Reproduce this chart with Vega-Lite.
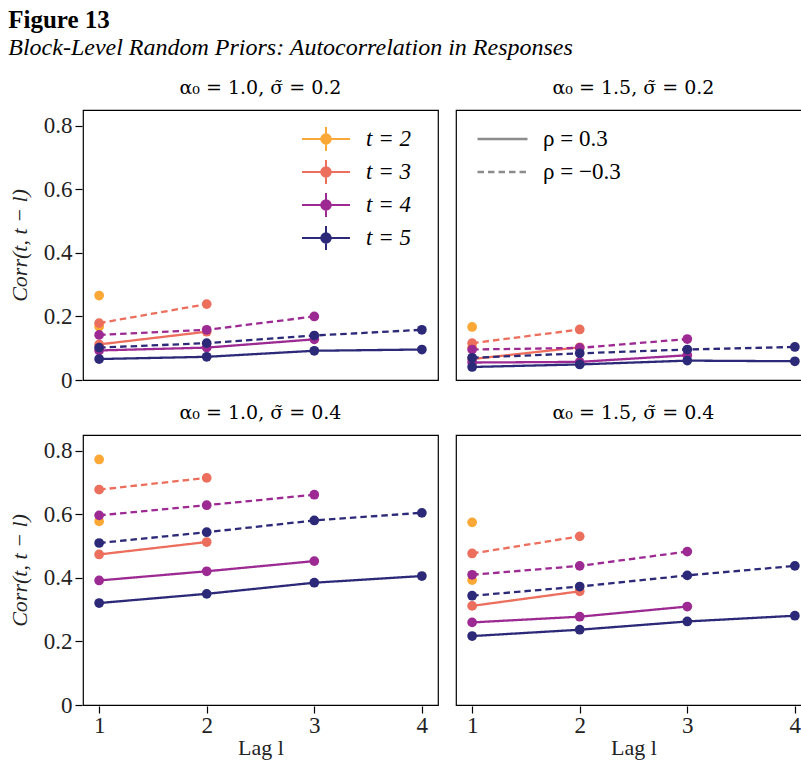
{
  "$schema": "https://vega.github.io/schema/vega-lite/v6.json",
  "padding": {"left": 8, "top": 8, "right": 0, "bottom": 4},
  "background": "white",
  "title": {
    "text": "Figure 13",
    "subtitle": "Block-Level Random Priors: Autocorrelation in Responses",
    "anchor": "start",
    "font": "Liberation Serif",
    "fontSize": 25,
    "fontWeight": "bold",
    "color": "black",
    "subtitleFont": "Liberation Serif",
    "subtitleFontSize": 24,
    "subtitleFontStyle": "italic",
    "subtitleColor": "black",
    "subtitlePadding": 3,
    "offset": 18
  },
  "data": {
    "values": [
      {"p": "α₀ = 1.0, σ̃ = 0.2", "t": "t = 2", "r": "ρ = 0.3", "l": 1, "c": 0.168},
      {"p": "α₀ = 1.0, σ̃ = 0.2", "t": "t = 2", "r": "ρ = −0.3", "l": 1, "c": 0.266},
      {"p": "α₀ = 1.0, σ̃ = 0.2", "t": "t = 3", "r": "ρ = 0.3", "l": 1, "c": 0.112},
      {"p": "α₀ = 1.0, σ̃ = 0.2", "t": "t = 3", "r": "ρ = 0.3", "l": 2, "c": 0.152},
      {"p": "α₀ = 1.0, σ̃ = 0.2", "t": "t = 3", "r": "ρ = −0.3", "l": 1, "c": 0.179},
      {"p": "α₀ = 1.0, σ̃ = 0.2", "t": "t = 3", "r": "ρ = −0.3", "l": 2, "c": 0.239},
      {"p": "α₀ = 1.0, σ̃ = 0.2", "t": "t = 4", "r": "ρ = 0.3", "l": 1, "c": 0.093},
      {"p": "α₀ = 1.0, σ̃ = 0.2", "t": "t = 4", "r": "ρ = 0.3", "l": 2, "c": 0.102},
      {"p": "α₀ = 1.0, σ̃ = 0.2", "t": "t = 4", "r": "ρ = 0.3", "l": 3, "c": 0.128},
      {"p": "α₀ = 1.0, σ̃ = 0.2", "t": "t = 4", "r": "ρ = −0.3", "l": 1, "c": 0.142},
      {"p": "α₀ = 1.0, σ̃ = 0.2", "t": "t = 4", "r": "ρ = −0.3", "l": 2, "c": 0.158},
      {"p": "α₀ = 1.0, σ̃ = 0.2", "t": "t = 4", "r": "ρ = −0.3", "l": 3, "c": 0.200},
      {"p": "α₀ = 1.0, σ̃ = 0.2", "t": "t = 5", "r": "ρ = 0.3", "l": 1, "c": 0.066},
      {"p": "α₀ = 1.0, σ̃ = 0.2", "t": "t = 5", "r": "ρ = 0.3", "l": 2, "c": 0.073},
      {"p": "α₀ = 1.0, σ̃ = 0.2", "t": "t = 5", "r": "ρ = 0.3", "l": 3, "c": 0.092},
      {"p": "α₀ = 1.0, σ̃ = 0.2", "t": "t = 5", "r": "ρ = 0.3", "l": 4, "c": 0.096},
      {"p": "α₀ = 1.0, σ̃ = 0.2", "t": "t = 5", "r": "ρ = −0.3", "l": 1, "c": 0.102},
      {"p": "α₀ = 1.0, σ̃ = 0.2", "t": "t = 5", "r": "ρ = −0.3", "l": 2, "c": 0.116},
      {"p": "α₀ = 1.0, σ̃ = 0.2", "t": "t = 5", "r": "ρ = −0.3", "l": 3, "c": 0.140},
      {"p": "α₀ = 1.0, σ̃ = 0.2", "t": "t = 5", "r": "ρ = −0.3", "l": 4, "c": 0.158},

      {"p": "α₀ = 1.5, σ̃ = 0.2", "t": "t = 2", "r": "ρ = 0.3", "l": 1, "c": 0.102},
      {"p": "α₀ = 1.5, σ̃ = 0.2", "t": "t = 2", "r": "ρ = −0.3", "l": 1, "c": 0.167},
      {"p": "α₀ = 1.5, σ̃ = 0.2", "t": "t = 3", "r": "ρ = 0.3", "l": 1, "c": 0.066},
      {"p": "α₀ = 1.5, σ̃ = 0.2", "t": "t = 3", "r": "ρ = 0.3", "l": 2, "c": 0.103},
      {"p": "α₀ = 1.5, σ̃ = 0.2", "t": "t = 3", "r": "ρ = −0.3", "l": 1, "c": 0.116},
      {"p": "α₀ = 1.5, σ̃ = 0.2", "t": "t = 3", "r": "ρ = −0.3", "l": 2, "c": 0.159},
      {"p": "α₀ = 1.5, σ̃ = 0.2", "t": "t = 4", "r": "ρ = 0.3", "l": 1, "c": 0.055},
      {"p": "α₀ = 1.5, σ̃ = 0.2", "t": "t = 4", "r": "ρ = 0.3", "l": 2, "c": 0.057},
      {"p": "α₀ = 1.5, σ̃ = 0.2", "t": "t = 4", "r": "ρ = 0.3", "l": 3, "c": 0.078},
      {"p": "α₀ = 1.5, σ̃ = 0.2", "t": "t = 4", "r": "ρ = −0.3", "l": 1, "c": 0.096},
      {"p": "α₀ = 1.5, σ̃ = 0.2", "t": "t = 4", "r": "ρ = −0.3", "l": 2, "c": 0.101},
      {"p": "α₀ = 1.5, σ̃ = 0.2", "t": "t = 4", "r": "ρ = −0.3", "l": 3, "c": 0.129},
      {"p": "α₀ = 1.5, σ̃ = 0.2", "t": "t = 5", "r": "ρ = 0.3", "l": 1, "c": 0.041},
      {"p": "α₀ = 1.5, σ̃ = 0.2", "t": "t = 5", "r": "ρ = 0.3", "l": 2, "c": 0.049},
      {"p": "α₀ = 1.5, σ̃ = 0.2", "t": "t = 5", "r": "ρ = 0.3", "l": 3, "c": 0.061},
      {"p": "α₀ = 1.5, σ̃ = 0.2", "t": "t = 5", "r": "ρ = 0.3", "l": 4, "c": 0.059},
      {"p": "α₀ = 1.5, σ̃ = 0.2", "t": "t = 5", "r": "ρ = −0.3", "l": 1, "c": 0.070},
      {"p": "α₀ = 1.5, σ̃ = 0.2", "t": "t = 5", "r": "ρ = −0.3", "l": 2, "c": 0.084},
      {"p": "α₀ = 1.5, σ̃ = 0.2", "t": "t = 5", "r": "ρ = −0.3", "l": 3, "c": 0.096},
      {"p": "α₀ = 1.5, σ̃ = 0.2", "t": "t = 5", "r": "ρ = −0.3", "l": 4, "c": 0.104},

      {"p": "α₀ = 1.0, σ̃ = 0.4", "t": "t = 2", "r": "ρ = 0.3", "l": 1, "c": 0.578},
      {"p": "α₀ = 1.0, σ̃ = 0.4", "t": "t = 2", "r": "ρ = −0.3", "l": 1, "c": 0.773},
      {"p": "α₀ = 1.0, σ̃ = 0.4", "t": "t = 3", "r": "ρ = 0.3", "l": 1, "c": 0.474},
      {"p": "α₀ = 1.0, σ̃ = 0.4", "t": "t = 3", "r": "ρ = 0.3", "l": 2, "c": 0.513},
      {"p": "α₀ = 1.0, σ̃ = 0.4", "t": "t = 3", "r": "ρ = −0.3", "l": 1, "c": 0.678},
      {"p": "α₀ = 1.0, σ̃ = 0.4", "t": "t = 3", "r": "ρ = −0.3", "l": 2, "c": 0.715},
      {"p": "α₀ = 1.0, σ̃ = 0.4", "t": "t = 4", "r": "ρ = 0.3", "l": 1, "c": 0.392},
      {"p": "α₀ = 1.0, σ̃ = 0.4", "t": "t = 4", "r": "ρ = 0.3", "l": 2, "c": 0.421},
      {"p": "α₀ = 1.0, σ̃ = 0.4", "t": "t = 4", "r": "ρ = 0.3", "l": 3, "c": 0.453},
      {"p": "α₀ = 1.0, σ̃ = 0.4", "t": "t = 4", "r": "ρ = −0.3", "l": 1, "c": 0.597},
      {"p": "α₀ = 1.0, σ̃ = 0.4", "t": "t = 4", "r": "ρ = −0.3", "l": 2, "c": 0.629},
      {"p": "α₀ = 1.0, σ̃ = 0.4", "t": "t = 4", "r": "ρ = −0.3", "l": 3, "c": 0.662},
      {"p": "α₀ = 1.0, σ̃ = 0.4", "t": "t = 5", "r": "ρ = 0.3", "l": 1, "c": 0.321},
      {"p": "α₀ = 1.0, σ̃ = 0.4", "t": "t = 5", "r": "ρ = 0.3", "l": 2, "c": 0.350},
      {"p": "α₀ = 1.0, σ̃ = 0.4", "t": "t = 5", "r": "ρ = 0.3", "l": 3, "c": 0.385},
      {"p": "α₀ = 1.0, σ̃ = 0.4", "t": "t = 5", "r": "ρ = 0.3", "l": 4, "c": 0.406},
      {"p": "α₀ = 1.0, σ̃ = 0.4", "t": "t = 5", "r": "ρ = −0.3", "l": 1, "c": 0.510},
      {"p": "α₀ = 1.0, σ̃ = 0.4", "t": "t = 5", "r": "ρ = −0.3", "l": 2, "c": 0.544},
      {"p": "α₀ = 1.0, σ̃ = 0.4", "t": "t = 5", "r": "ρ = −0.3", "l": 3, "c": 0.581},
      {"p": "α₀ = 1.0, σ̃ = 0.4", "t": "t = 5", "r": "ρ = −0.3", "l": 4, "c": 0.605},

      {"p": "α₀ = 1.5, σ̃ = 0.4", "t": "t = 2", "r": "ρ = 0.3", "l": 1, "c": 0.393},
      {"p": "α₀ = 1.5, σ̃ = 0.4", "t": "t = 2", "r": "ρ = −0.3", "l": 1, "c": 0.575},
      {"p": "α₀ = 1.5, σ̃ = 0.4", "t": "t = 3", "r": "ρ = 0.3", "l": 1, "c": 0.312},
      {"p": "α₀ = 1.5, σ̃ = 0.4", "t": "t = 3", "r": "ρ = 0.3", "l": 2, "c": 0.358},
      {"p": "α₀ = 1.5, σ̃ = 0.4", "t": "t = 3", "r": "ρ = −0.3", "l": 1, "c": 0.477},
      {"p": "α₀ = 1.5, σ̃ = 0.4", "t": "t = 3", "r": "ρ = −0.3", "l": 2, "c": 0.531},
      {"p": "α₀ = 1.5, σ̃ = 0.4", "t": "t = 4", "r": "ρ = 0.3", "l": 1, "c": 0.260},
      {"p": "α₀ = 1.5, σ̃ = 0.4", "t": "t = 4", "r": "ρ = 0.3", "l": 2, "c": 0.278},
      {"p": "α₀ = 1.5, σ̃ = 0.4", "t": "t = 4", "r": "ρ = 0.3", "l": 3, "c": 0.310},
      {"p": "α₀ = 1.5, σ̃ = 0.4", "t": "t = 4", "r": "ρ = −0.3", "l": 1, "c": 0.410},
      {"p": "α₀ = 1.5, σ̃ = 0.4", "t": "t = 4", "r": "ρ = −0.3", "l": 2, "c": 0.438},
      {"p": "α₀ = 1.5, σ̃ = 0.4", "t": "t = 4", "r": "ρ = −0.3", "l": 3, "c": 0.483},
      {"p": "α₀ = 1.5, σ̃ = 0.4", "t": "t = 5", "r": "ρ = 0.3", "l": 1, "c": 0.217},
      {"p": "α₀ = 1.5, σ̃ = 0.4", "t": "t = 5", "r": "ρ = 0.3", "l": 2, "c": 0.237},
      {"p": "α₀ = 1.5, σ̃ = 0.4", "t": "t = 5", "r": "ρ = 0.3", "l": 3, "c": 0.263},
      {"p": "α₀ = 1.5, σ̃ = 0.4", "t": "t = 5", "r": "ρ = 0.3", "l": 4, "c": 0.281},
      {"p": "α₀ = 1.5, σ̃ = 0.4", "t": "t = 5", "r": "ρ = −0.3", "l": 1, "c": 0.344},
      {"p": "α₀ = 1.5, σ̃ = 0.4", "t": "t = 5", "r": "ρ = −0.3", "l": 2, "c": 0.373},
      {"p": "α₀ = 1.5, σ̃ = 0.4", "t": "t = 5", "r": "ρ = −0.3", "l": 3, "c": 0.408},
      {"p": "α₀ = 1.5, σ̃ = 0.4", "t": "t = 5", "r": "ρ = −0.3", "l": 4, "c": 0.438}
    ]
  },
  "facet": {
    "field": "p",
    "type": "nominal",
    "sort": ["α₀ = 1.0, σ̃ = 0.2", "α₀ = 1.5, σ̃ = 0.2", "α₀ = 1.0, σ̃ = 0.4", "α₀ = 1.5, σ̃ = 0.4"],
    "header": {
      "title": null,
      "labelFont": "DejaVu Serif",
      "labelFontSize": 19,
      "labelColor": "black",
      "labelPadding": 12
    }
  },
  "columns": 2,
  "spacing": {"column": 16, "row": 22},
  "spec": {
    "width": 355,
    "height": 270,
    "layer": [
      {
        "mark": {"type": "line", "strokeWidth": 2.3},
        "encoding": {
          "x": {"field": "l", "type": "quantitative"},
          "y": {"field": "c", "type": "quantitative"},
          "color": {"field": "t", "type": "nominal"},
          "strokeDash": {"field": "r", "type": "nominal"},
          "detail": {"field": "r"}
        }
      },
      {
        "mark": {"type": "point", "filled": true, "size": 95, "opacity": 1},
        "encoding": {
          "x": {"field": "l", "type": "quantitative"},
          "y": {"field": "c", "type": "quantitative"},
          "color": {"field": "t", "type": "nominal"}
        }
      }
    ],
    "encoding": {
      "x": {
        "field": "l",
        "type": "quantitative",
        "title": "Lag l",
        "scale": {"domain": [0.85, 4.15], "nice": false, "zero": false},
        "axis": {"values": [1, 2, 3, 4], "format": "d", "labelPadding": 1, "titlePadding": 0}
      },
      "y": {
        "field": "c",
        "type": "quantitative",
        "title": "Corr(t, t − l)",
        "scale": {"domain": [0, 0.85], "nice": false},
        "axis": {
          "values": [0, 0.2, 0.4, 0.6, 0.8],
          "labelExpr": "datum.value == 0 ? '0' : format(datum.value, '.1f')",
          "titleFontStyle": "italic",
          "titlePadding": 12
        }
      },
      "color": {
        "field": "t",
        "type": "nominal",
        "scale": {
          "domain": ["t = 2", "t = 3", "t = 4", "t = 5"],
          "range": ["#FBA836", "#EC6E5C", "#9C2A92", "#2C2A78"]
        },
        "legend": {
          "title": null,
          "orient": "none",
          "legendX": 218,
          "legendY": 16,
          "symbolType": "M-1,0H1M0,-0.5V0.5M0.2,0A0.2,0.2,0,1,1,-0.2,0A0.2,0.2,0,1,1,0.2,0Z",
          "symbolSize": 2300,
          "symbolStrokeWidth": 2,
          "clipHeight": 26,
          "rowPadding": 7,
          "labelFont": "Liberation Serif",
          "labelFontSize": 23,
          "labelFontStyle": "italic",
          "labelColor": "black",
          "labelOffset": 15
        }
      },
      "strokeDash": {
        "field": "r",
        "type": "nominal",
        "scale": {
          "domain": ["ρ = 0.3", "ρ = −0.3"],
          "range": [[1, 0], [6.5, 4]]
        },
        "legend": {
          "title": null,
          "orient": "none",
          "legendX": 393,
          "legendY": 16,
          "symbolType": "stroke",
          "symbolSize": 2500,
          "clipHeight": 26,
          "rowPadding": 7,
          "labelFont": "Liberation Serif",
          "labelFontSize": 23,
          "labelColor": "black",
          "labelOffset": 14,
          "encode": {
            "symbols": {
              "update": {
                "stroke": {"value": "#8c8c8c"},
                "strokeWidth": {"value": 2.3},
                "opacity": {"value": 1}
              }
            }
          }
        }
      }
    }
  },
  "config": {
    "font": "Liberation Serif",
    "view": {"stroke": "black", "strokeWidth": 1.2},
    "axis": {
      "grid": false,
      "domain": false,
      "tickColor": "black",
      "tickSize": 7,
      "tickWidth": 1.2,
      "labelFont": "Liberation Serif",
      "labelFontSize": 23,
      "labelColor": "#222",
      "labelPadding": 3,
      "titleFont": "Liberation Serif",
      "titleFontSize": 22,
      "titleFontWeight": "normal",
      "titleColor": "#222",
      "titlePadding": 6
    }
  }
}
